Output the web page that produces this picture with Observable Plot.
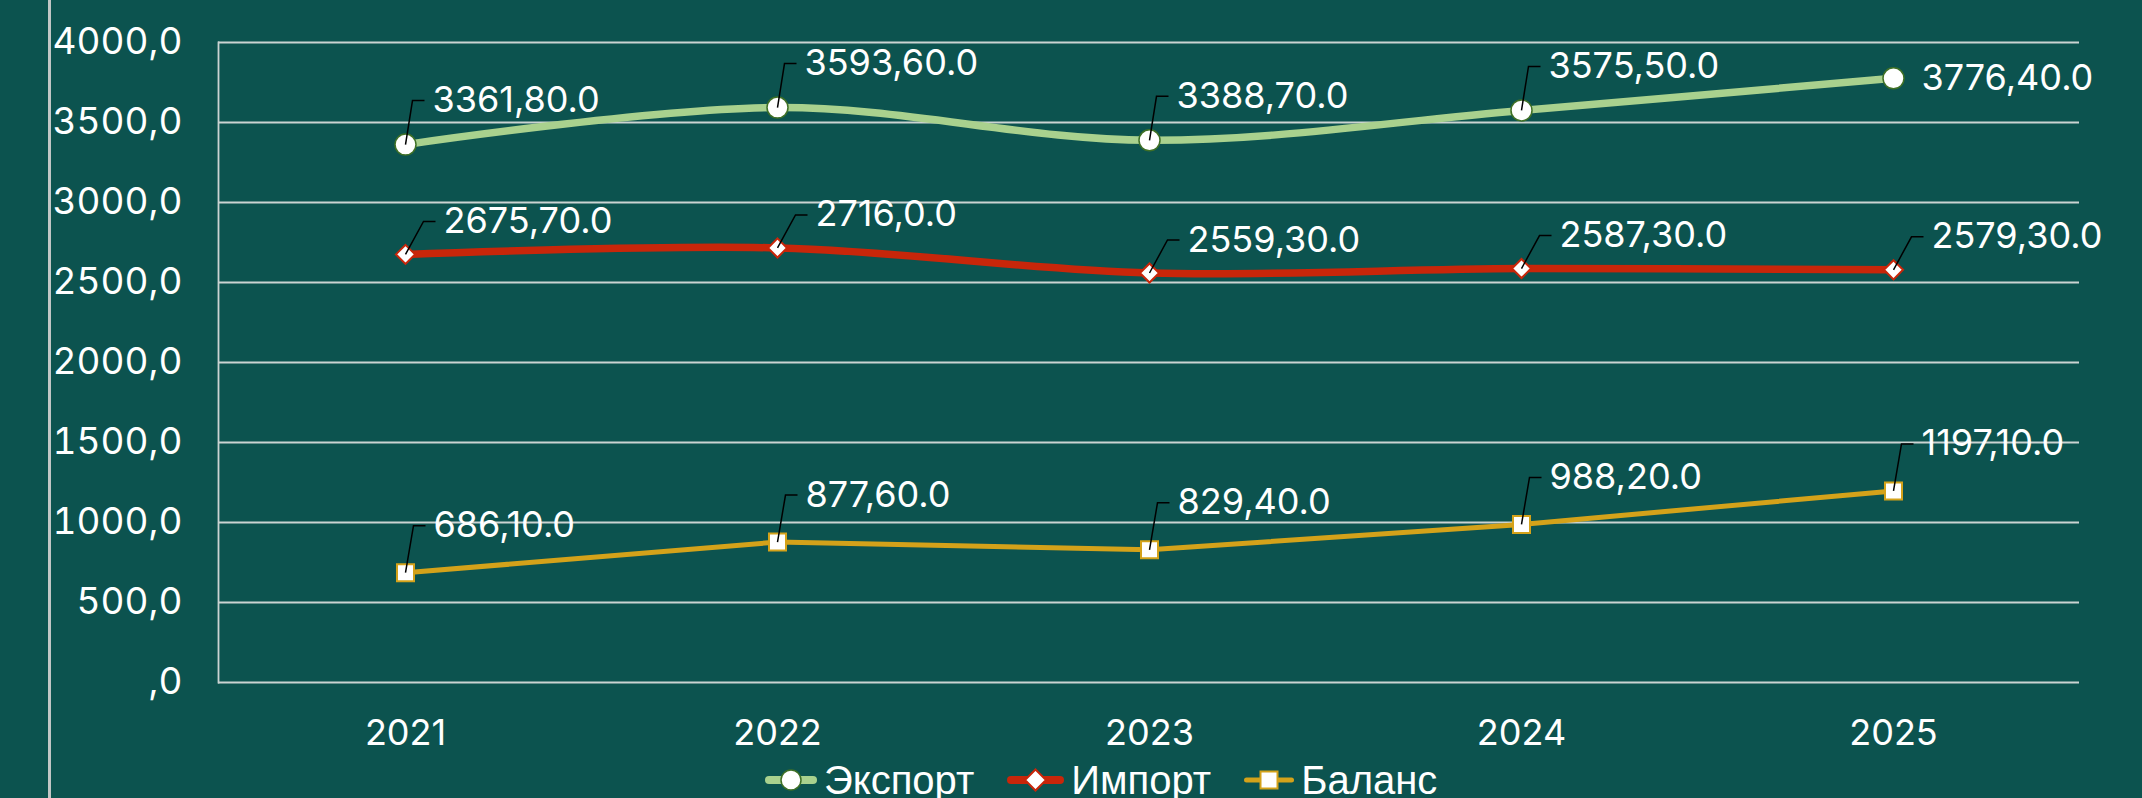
<!DOCTYPE html>
<html>
<head>
<meta charset="utf-8">
<script src="https://cdn.jsdelivr.net/npm/d3@7"></script>
<script src="https://cdn.jsdelivr.net/npm/@observablehq/plot@0.6"></script>
<style>
  html, body { margin: 0; padding: 0; background: #0c534f; width: 2142px; height: 798px; overflow: hidden; }
  #wrap { position: relative; width: 2142px; height: 798px; }
  #edge { position: absolute; left: 48px; top: 0; width: 3px; height: 798px; background: #c2c6c5; }
  #legend { display: flex; align-items: center; height: 50px; padding-left: 765px; box-sizing: border-box;
            font-family: "Liberation Sans", Arial, sans-serif; font-size: 40px; color: #fff; white-space: nowrap; }
  .item { display: flex; align-items: center; margin-right: 33px; }
  .item svg { margin-right: 7px; overflow: visible; }
  #chart svg { display: block; }
</style>
</head>
<body>
<div id="wrap">
  <div id="chart"></div>
  <div id="legend"></div>
  <div id="edge"></div>
</div>
<script>
// ---- data ----
const years = ["2021", "2022", "2023", "2024", "2025"];
const seriesNames = ["Экспорт", "Импорт", "Баланс"];
const exportValues = [3361.8, 3593.6, 3388.7, 3575.5, 3776.4];
const importValues = [2675.7, 2716.0, 2559.3, 2587.3, 2579.3];
const balanceValues = [686.1, 877.6, 829.4, 988.2, 1197.1];
const exportLabels = ["3361,80.0", "3593,60.0", "3388,70.0", "3575,50.0", "3776,40.0"];
const importLabels = ["2675,70.0", "2716,0.0", "2559,30.0", "2587,30.0", "2579,30.0"];
const balanceLabels = ["686,10.0", "877,60.0", "829,40.0", "988,20.0", "1197,10.0"];
const yTicks = [0, 500, 1000, 1500, 2000, 2500, 3000, 3500, 4000];
const yTickLabels = [",0", "500,0", "1000,0", "1500,0", "2000,0", "2500,0", "3000,0", "3500,0", "4000,0"];

// ---- styles ----
const colors = { export: "#a9d18e", import: "#c8260a", balance: "#d4a21a" };
const gridColor = "#cbd3d2";
const font = "Inter, 'Noto Sans', sans-serif";

const rows = (vals, labels) => years.map((year, i) => ({ year, value: vals[i], label: labels[i] }));
const exportRows = rows(exportValues, exportLabels);
const importRows = rows(importValues, importLabels);
const balanceRows = rows(balanceValues, balanceLabels);

// leader line drawn as custom symbol: from point up to label, then short horizontal tick
const leader = (dx, dy) => ({
  draw(ctx) { ctx.moveTo(0, 0); ctx.lineTo(dx - 20, dy); ctx.lineTo(dx - 8, dy); }
});

const off = { export: [27, -44], import: [38, -33], balance: [28, -47] };

function labelMarks(data, [dx, dy]) {
  return [
    Plot.dot(data, { x: "year", y: "value", symbol: leader(dx, dy), r: 5, fill: "none", stroke: "black", strokeWidth: 1.5 }),
    Plot.text(data, { x: "year", y: "value", text: "label", dx, dy, textAnchor: "start", fill: "white",
      fontSize: 36, fontFamily: font })
  ];
}

const chart = Plot.plot({
  width: 2142,
  height: 755,
  marginLeft: 218,
  marginRight: 63,
  marginTop: 42,
  marginBottom: 73,
  style: { background: "transparent", color: "#ffffff", fontFamily: font, fontSize: "36px", overflow: "visible" },
  x: { type: "point", domain: years, padding: 0.5, label: null },
  y: { domain: [0, 4000], label: null },
  marks: [
    Plot.gridY(yTicks, { stroke: gridColor, strokeOpacity: 1, strokeWidth: 1.8 }),
    Plot.frame({ anchor: "left", stroke: gridColor, strokeOpacity: 1, strokeWidth: 1.8 }),
    Plot.axisY(yTicks, { tickSize: 0, tickPadding: 36, fontSize: 37, fill: "white", label: null,
      tickFormat: d => yTickLabels[yTicks.indexOf(d)] }),
    Plot.axisX({ tickSize: 0, tickPadding: 37, fontSize: 36, fill: "white", label: null }),
    Plot.line(exportRows, { x: "year", y: "value", stroke: colors.export, strokeWidth: 7.5, curve: "catmull-rom" }),
    Plot.line(importRows, { x: "year", y: "value", stroke: colors.import, strokeWidth: 7.5, curve: "catmull-rom" }),
    Plot.line(balanceRows, { x: "year", y: "value", stroke: colors.balance, strokeWidth: 5 }),
    Plot.dot(exportRows, { x: "year", y: "value", r: 10.5, fill: "white", stroke: "#3f7026", strokeWidth: 1.5 }),
    Plot.dot(importRows, { x: "year", y: "value", symbol: "diamond2", r: 8.6, fill: "white", stroke: colors.import, strokeWidth: 2 }),
    Plot.dot(balanceRows, { x: "year", y: "value", symbol: "square", r: 9.6, fill: "white", stroke: colors.balance, strokeWidth: 2 }),
    ...labelMarks(exportRows.slice(0, -1), off.export),
    Plot.text(exportRows.slice(-1), { x: "year", y: "value", text: "label", dx: 28, dy: 0, textAnchor: "start",
      fill: "white", fontSize: 36, fontFamily: font }),
    ...labelMarks(importRows, off.import),
    ...labelMarks(balanceRows, off.balance)
  ]
});
document.getElementById("chart").appendChild(chart);

// ---- legend ----
const swatches = [
  { w: 52, color: colors.export, sw: 8, marker: `<circle cx="26" cy="15" r="10" fill="white" stroke="#3f7026" stroke-width="1.5"/>` },
  { w: 57, color: colors.import, sw: 8, marker: `<path d="M28.5,4.5L39,15L28.5,25.5L18,15Z" fill="white" stroke="${colors.import}" stroke-width="2"/>` },
  { w: 50, color: colors.balance, sw: 5, marker: `<rect x="16.5" y="6.5" width="17" height="17" fill="white" stroke="${colors.balance}" stroke-width="2"/>` }
];
const legend = document.getElementById("legend");
seriesNames.forEach((name, i) => {
  const s = swatches[i];
  const item = document.createElement("div");
  item.className = "item";
  item.innerHTML = `<svg width="${s.w}" height="30"><line x1="${s.sw/2}" y1="15" x2="${s.w - s.sw/2}" y2="15" stroke="${s.color}" stroke-width="${s.sw}" stroke-linecap="round"/>${s.marker}</svg><span>${name}</span>`;
  legend.appendChild(item);
});
</script>
</body>
</html>
